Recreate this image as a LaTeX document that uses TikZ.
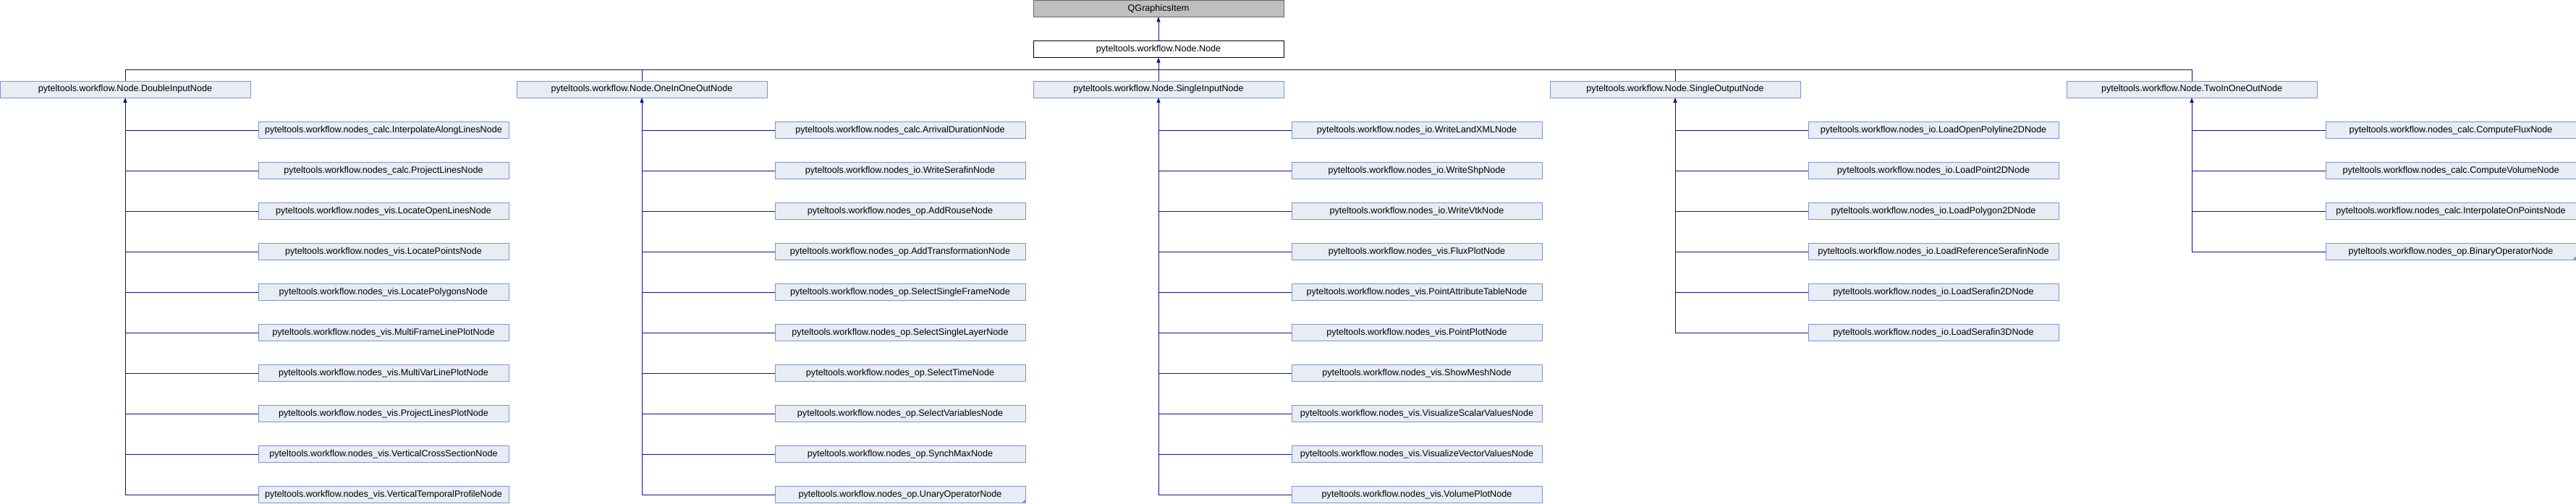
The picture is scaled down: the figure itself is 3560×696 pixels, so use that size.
\documentclass[tikz,border=0pt]{standalone}
\usepackage{fontspec}
\setmainfont{Liberation Sans}
\usepackage{xcolor}
\usepackage{tikz}
\usetikzlibrary{arrows.meta,positioning}
\definecolor{dxfill}{RGB}{232,236,245}
\definecolor{dxborder}{RGB}{124,148,204}
\definecolor{dxedge}{RGB}{16,16,140}
\definecolor{dxgrey}{RGB}{191,191,191}
\definecolor{dxgreyline}{RGB}{102,102,102}

\begin{document}
\begin{tikzpicture}[
    x=1pt, y=1pt,
    cls/.style={draw=dxborder, fill=dxfill, line width=1pt,
                minimum width=346pt, minimum height=23pt, inner sep=0pt,
                outer sep=0pt, font=\fontsize{12.6}{15}\selectfont},
    base/.style={cls, draw=dxgreyline, fill=dxgrey},
    self/.style={cls, draw=black, fill=white},
    link/.style={draw=dxedge, line width=1pt},
    arr/.style={link, -{Triangle[length=7pt, width=5pt]}},
    node distance=33pt
]
\useasboundingbox (0,0) rectangle (3560,-696);

\node[base] (qgi) at (1601,-11.75) {QGraphicsItem};
\node[self] (node) at (1601,-68) {pyteltools.workflow.Node.Node};

% direct subclasses of Node
\node[cls] (dbl) at (173,-123.5) {pyteltools.workflow.Node.DoubleInputNode};
\node[cls] (ooo) at (887,-123.5) {pyteltools.workflow.Node.OneInOneOutNode};
\node[cls] (sin) at (1601,-123.5) {pyteltools.workflow.Node.SingleInputNode};
\node[cls] (sout) at (2315,-123.5) {pyteltools.workflow.Node.SingleOutputNode};
\node[cls] (tio) at (3029,-123.5) {pyteltools.workflow.Node.TwoInOneOutNode};

% DoubleInputNode
\node[cls] (d1) at (530,-180) {pyteltools.workflow.nodes\_calc.InterpolateAlongLinesNode};
\node[cls, below=of d1] (d2) {pyteltools.workflow.nodes\_calc.ProjectLinesNode};
\node[cls, below=of d2] (d3) {pyteltools.workflow.nodes\_vis.LocateOpenLinesNode};
\node[cls, below=of d3] (d4) {pyteltools.workflow.nodes\_vis.LocatePointsNode};
\node[cls, below=of d4] (d5) {pyteltools.workflow.nodes\_vis.LocatePolygonsNode};
\node[cls, below=of d5] (d6) {pyteltools.workflow.nodes\_vis.MultiFrameLinePlotNode};
\node[cls, below=of d6] (d7) {pyteltools.workflow.nodes\_vis.MultiVarLinePlotNode};
\node[cls, below=of d7] (d8) {pyteltools.workflow.nodes\_vis.ProjectLinesPlotNode};
\node[cls, below=of d8] (d9) {pyteltools.workflow.nodes\_vis.VerticalCrossSectionNode};
\node[cls, below=of d9] (d10) {pyteltools.workflow.nodes\_vis.VerticalTemporalProfileNode};

% OneInOneOutNode
\node[cls] (o1) at (1244,-180) {pyteltools.workflow.nodes\_calc.ArrivalDurationNode};
\node[cls, below=of o1] (o2) {pyteltools.workflow.nodes\_io.WriteSerafinNode};
\node[cls, below=of o2] (o3) {pyteltools.workflow.nodes\_op.AddRouseNode};
\node[cls, below=of o3] (o4) {pyteltools.workflow.nodes\_op.AddTransformationNode};
\node[cls, below=of o4] (o5) {pyteltools.workflow.nodes\_op.SelectSingleFrameNode};
\node[cls, below=of o5] (o6) {pyteltools.workflow.nodes\_op.SelectSingleLayerNode};
\node[cls, below=of o6] (o7) {pyteltools.workflow.nodes\_op.SelectTimeNode};
\node[cls, below=of o7] (o8) {pyteltools.workflow.nodes\_op.SelectVariablesNode};
\node[cls, below=of o8] (o9) {pyteltools.workflow.nodes\_op.SynchMaxNode};
\node[cls, below=of o9] (o10) {pyteltools.workflow.nodes\_op.UnaryOperatorNode};

% SingleInputNode
\node[cls] (s1) at (1958,-180) {pyteltools.workflow.nodes\_io.WriteLandXMLNode};
\node[cls, below=of s1] (s2) {pyteltools.workflow.nodes\_io.WriteShpNode};
\node[cls, below=of s2] (s3) {pyteltools.workflow.nodes\_io.WriteVtkNode};
\node[cls, below=of s3] (s4) {pyteltools.workflow.nodes\_vis.FluxPlotNode};
\node[cls, below=of s4] (s5) {pyteltools.workflow.nodes\_vis.PointAttributeTableNode};
\node[cls, below=of s5] (s6) {pyteltools.workflow.nodes\_vis.PointPlotNode};
\node[cls, below=of s6] (s7) {pyteltools.workflow.nodes\_vis.ShowMeshNode};
\node[cls, below=of s7] (s8) {pyteltools.workflow.nodes\_vis.VisualizeScalarValuesNode};
\node[cls, below=of s8] (s9) {pyteltools.workflow.nodes\_vis.VisualizeVectorValuesNode};
\node[cls, below=of s9] (s10) {pyteltools.workflow.nodes\_vis.VolumePlotNode};

% SingleOutputNode
\node[cls] (l1) at (2672,-180) {pyteltools.workflow.nodes\_io.LoadOpenPolyline2DNode};
\node[cls, below=of l1] (l2) {pyteltools.workflow.nodes\_io.LoadPoint2DNode};
\node[cls, below=of l2] (l3) {pyteltools.workflow.nodes\_io.LoadPolygon2DNode};
\node[cls, below=of l3] (l4) {pyteltools.workflow.nodes\_io.LoadReferenceSerafinNode};
\node[cls, below=of l4] (l5) {pyteltools.workflow.nodes\_io.LoadSerafin2DNode};
\node[cls, below=of l5] (l6) {pyteltools.workflow.nodes\_io.LoadSerafin3DNode};

% TwoInOneOutNode
\node[cls] (t1) at (3387,-180) {pyteltools.workflow.nodes\_calc.ComputeFluxNode};
\node[cls, below=of t1] (t2) {pyteltools.workflow.nodes\_calc.ComputeVolumeNode};
\node[cls, below=of t2] (t3) {pyteltools.workflow.nodes\_calc.InterpolateOnPointsNode};
\node[cls, below=of t3] (t4) {pyteltools.workflow.nodes\_op.BinaryOperatorNode};

% folded corners (more subclasses not shown)
\fill[dxborder] (o10.south east) -- ++(-5,0) -- ++(5,5) -- cycle;
\fill[dxborder] (t4.south east) -- ++(-5,0) -- ++(5,5) -- cycle;

% inheritance
\coordinate (bus) at (0,-96);
\draw[arr] (node) -- (qgi);
\draw[arr] (bus -| node.south) -- (node.south);
\draw[link] (dbl.north) -- (dbl.north |- bus) -- (tio.north |- bus) -- (tio.north);
\draw[link] (ooo.north) -- (ooo.north |- bus);
\draw[link] (sin.north) -- (sin.north |- bus);
\draw[link] (sout.north) -- (sout.north |- bus);

\draw[arr] (d10.west -| dbl.south) -- (dbl.south);
\foreach \c in {d1,d2,d3,d4,d5,d6,d7,d8,d9,d10}
    \draw[link] (\c.west) -- (\c.west -| dbl.south);
\draw[arr] (o10.west -| ooo.south) -- (ooo.south);
\foreach \c in {o1,o2,o3,o4,o5,o6,o7,o8,o9,o10}
    \draw[link] (\c.west) -- (\c.west -| ooo.south);
\draw[arr] (s10.west -| sin.south) -- (sin.south);
\foreach \c in {s1,s2,s3,s4,s5,s6,s7,s8,s9,s10}
    \draw[link] (\c.west) -- (\c.west -| sin.south);
\draw[arr] (l6.west -| sout.south) -- (sout.south);
\foreach \c in {l1,l2,l3,l4,l5,l6}
    \draw[link] (\c.west) -- (\c.west -| sout.south);
\draw[arr] (t4.west -| tio.south) -- (tio.south);
\foreach \c in {t1,t2,t3,t4}
    \draw[link] (\c.west) -- (\c.west -| tio.south);
\end{tikzpicture}
\end{document}
